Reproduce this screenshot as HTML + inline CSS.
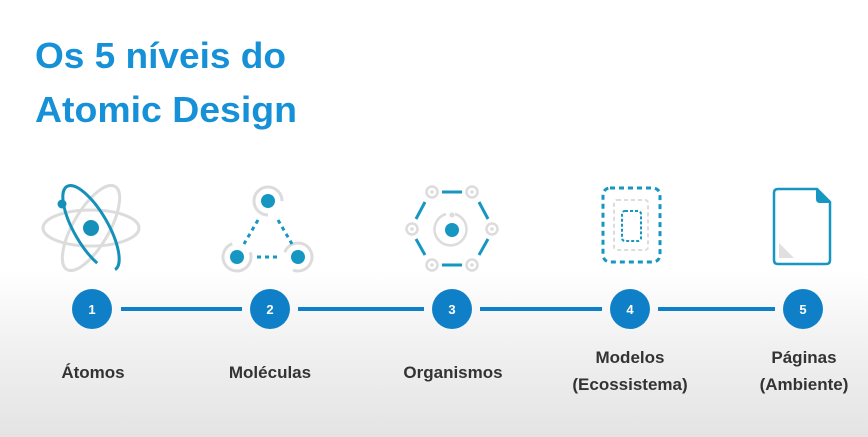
<!DOCTYPE html>
<html><head><meta charset="utf-8"><style>
html,body{margin:0;padding:0;width:868px;height:437px;overflow:hidden}
</style></head><body>
<svg width="868" height="437" viewBox="0 0 868 437" xmlns="http://www.w3.org/2000/svg" font-family="Liberation Sans, sans-serif">
<defs>
<linearGradient id="bg" x1="0" y1="0" x2="0" y2="1">
<stop offset="0" stop-color="#ffffff"/>
<stop offset="0.62" stop-color="#ffffff"/>
<stop offset="0.8" stop-color="#f0f0f0"/>
<stop offset="1" stop-color="#e4e4e4"/>
</linearGradient>
</defs>
<rect width="868" height="437" fill="url(#bg)"/>
<g fill="#1690d6" font-weight="bold" font-size="36">
<text x="35" y="68" textLength="251" lengthAdjust="spacingAndGlyphs">Os 5 níveis do</text>
<text x="35" y="122" textLength="262" lengthAdjust="spacingAndGlyphs">Atomic Design</text>
</g>
<!-- atom -->
<g fill="none" stroke="#dcdcdc" stroke-width="3">
<ellipse cx="91" cy="228" rx="48" ry="18"/>
<ellipse cx="91" cy="228" rx="48" ry="18" transform="rotate(-60 91 228)"/>
</g>
<ellipse cx="91" cy="228" rx="48" ry="17" transform="rotate(60 91 228)" fill="none" stroke="#1590b8" stroke-width="3" stroke-dasharray="240 60" stroke-dashoffset="-20"/>
<circle cx="62" cy="204" r="4.5" fill="#1590b8"/>
<circle cx="91" cy="228" r="8" fill="#1590b8"/>
<!-- molecule -->
<g fill="none" stroke="#dcdcdc" stroke-width="3">
<circle cx="268" cy="201" r="14" stroke-dasharray="66 22" transform="rotate(90 268 201)"/>
<circle cx="237" cy="257" r="14" stroke-dasharray="66 22" transform="rotate(-20 237 257)"/>
<circle cx="298" cy="257" r="14" stroke-dasharray="66 22" transform="rotate(200 298 257)"/>
</g>
<g fill="#1597c2"><circle cx="268" cy="201" r="7"/><circle cx="237" cy="257" r="7"/><circle cx="298" cy="257" r="7"/></g>
<g stroke="#1597c2" stroke-width="3" stroke-dasharray="4 4"><line x1="258" y1="220" x2="244" y2="244"/><line x1="278" y1="220" x2="292" y2="244"/><line x1="257" y1="257" x2="281" y2="257"/></g>
<!-- organism -->
<g fill="none" stroke="#dcdcdc" stroke-width="2.5">
<circle cx="432" cy="192" r="5.5"/><circle cx="472" cy="192" r="5.5"/><circle cx="412" cy="229" r="5.5"/><circle cx="492" cy="229" r="5.5"/><circle cx="432" cy="265" r="5.5"/><circle cx="472" cy="265" r="5.5"/>
<path d="M446 214 A16 16 0 1 0 455 214"/>
</g>
<g fill="#dcdcdc"><circle cx="432" cy="192" r="1.8"/><circle cx="472" cy="192" r="1.8"/><circle cx="412" cy="229" r="1.8"/><circle cx="492" cy="229" r="1.8"/><circle cx="432" cy="265" r="1.8"/><circle cx="472" cy="265" r="1.8"/><circle cx="452" cy="215" r="2.5"/></g>
<circle cx="452" cy="230" r="7" fill="#1597c2"/>
<g stroke="#1597c2" stroke-width="3"><line x1="442" y1="192" x2="462" y2="192"/><line x1="442" y1="265" x2="462" y2="265"/><line x1="425" y1="202" x2="416" y2="219"/><line x1="479" y1="202" x2="488" y2="219"/><line x1="416" y1="239" x2="425" y2="255"/><line x1="488" y1="239" x2="479" y2="255"/></g>
<!-- models -->
<rect x="603" y="188" width="57" height="74" rx="7" fill="none" stroke="#1597c2" stroke-width="3" stroke-dasharray="5 4"/>
<rect x="614" y="200" width="34" height="50" rx="3" fill="none" stroke="#dcdcdc" stroke-width="2" stroke-dasharray="4 3"/>
<rect x="622" y="211" width="19" height="30" rx="3" fill="none" stroke="#1597c2" stroke-width="2" stroke-dasharray="3 2"/>
<!-- page -->
<path d="M778 189 H817 L830 202 V260 Q830 264 826 264 H778 Q774 264 774 260 V193 Q774 189 778 189 Z" fill="#fff" stroke="#1597c2" stroke-width="2.5"/>
<path d="M816 189 V199 Q816 203 820 203 H830 Z" fill="#1597c2"/>
<path d="M779 243 L794 258 H779 Z" fill="#e0e0e0"/>
<!-- timeline -->
<g stroke="#0f80c8" stroke-width="4"><line x1="121" y1="309" x2="242" y2="309"/><line x1="298" y1="309" x2="424" y2="309"/><line x1="480" y1="309" x2="602" y2="309"/><line x1="658" y1="309" x2="775" y2="309"/></g>
<g fill="#0f80c8"><circle cx="92" cy="309" r="20"/><circle cx="270" cy="309" r="20"/><circle cx="452" cy="309" r="20"/><circle cx="630" cy="309" r="20"/><circle cx="803" cy="309" r="20"/></g>
<g fill="#fff" font-size="13" font-weight="bold" text-anchor="middle"><text x="92" y="314">1</text><text x="270" y="314">2</text><text x="452" y="314">3</text><text x="630" y="314">4</text><text x="803" y="314">5</text></g>
<g fill="#333" font-size="17" font-weight="bold" text-anchor="middle">
<text x="93" y="378">Átomos</text>
<text x="270" y="378">Moléculas</text>
<text x="453" y="378">Organismos</text>
<text x="630" y="363">Modelos</text>
<text x="630" y="390">(Ecossistema)</text>
<text x="804" y="363">Páginas</text>
<text x="804" y="390">(Ambiente)</text>
</g>
</svg>
</body></html>
